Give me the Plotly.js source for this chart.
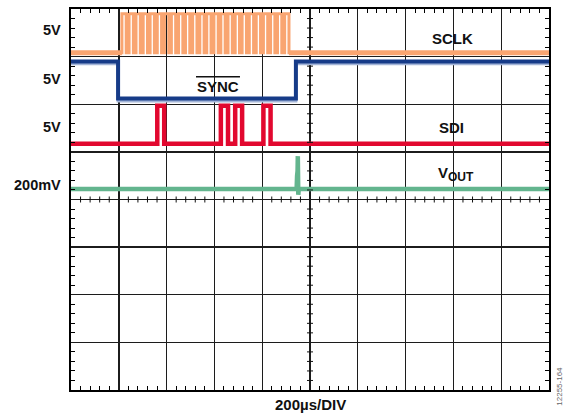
<!DOCTYPE html>
<html>
<head>
<meta charset="utf-8">
<script src="https://cdn.plot.ly/plotly-3.0.1.min.js"></script>
<style>html,body{margin:0;padding:0;background:#fff;}#chart{width:566px;height:415px;}</style>
</head>
<body>
<div id="chart"></div>
<script>
// time axis in microseconds (200 us/div, 10 div); vertical axis in screen divisions (8 div)
var timeRange = [0, 2000];
var divRange = [0, 8];

// SCLK: 24 clock pulses (rise / fall times, us) and levels (div)
var sclkRise = [213, 243, 272, 302, 331, 361, 391, 420, 450, 479, 509, 539,
                568, 598, 627, 657, 687, 716, 746, 775, 805, 835, 864, 894];
var sclkFall = [231, 261, 290, 320, 349, 379, 409, 438, 468, 497, 527, 557,
                586, 616, 645, 675, 705, 734, 764, 793, 823, 853, 882, 912];
var sclkLow = 7.08, sclkHigh = 7.90;

// SYNC (active low frame)
var syncFall = 197, syncRise = 941;
var syncHigh = 6.90, syncLow = 6.12;

// SDI data pulses
var sdiRise = [361, 627, 687, 805];
var sdiFall = [390, 657, 716, 835];
var sdiLow = 5.17, sdiHigh = 5.97;

// VOUT with small glitch at SYNC rising edge
var voutT = [0, 944, 946, 948, 949, 950, 951, 953, 2000];
var voutV = [4.22, 4.22, 4.5, 4.6, 4.91, 4.3, 4.1, 4.22, 4.22];

// channel labels
var chanLabels = ['5V', '5V', '5V', '200mV'];
var chanLabelY = [7.56, 6.53, 5.52, 4.30];
var sigNames = ['SCLK', 'SYNC', 'SDI', 'V<sub><span style="font-size:12px">OUT</span></sub>'];
var sigNameX = [1598, 615, 1594, 1610];
var sigNameY = [7.39, 6.38, 5.52, 4.54];

function pulses(rise, fall, low, high, t0, t1) {
  var x = [t0], y = [low];
  for (var i = 0; i < rise.length; i++) {
    x.push(rise[i]); y.push(high);
    x.push(fall[i]); y.push(low);
  }
  x.push(t1); y.push(low);
  return {x: x, y: y};
}

var sclk = pulses(sclkRise, sclkFall, sclkLow, sclkHigh, timeRange[0], timeRange[1]);
var sdi = pulses(sdiRise, sdiFall, sdiLow, sdiHigh, timeRange[0], timeRange[1]);
var syncX = [timeRange[0], syncFall, syncRise, timeRange[1]];
var syncY = [syncHigh, syncLow, syncHigh, syncHigh];

var orange = '#F9A571';
var traces = [
  {x: sclk.x, y: sclk.y, mode: 'lines', line: {shape: 'hv', color: orange, width: 3}, hoverinfo: 'skip'},
  {x: [timeRange[0], sclkRise[0]], y: [sclkLow, sclkLow], mode: 'lines', line: {color: orange, width: 5}, hoverinfo: 'skip'},
  {x: [sclkFall[sclkFall.length - 1], timeRange[1]], y: [sclkLow, sclkLow], mode: 'lines', line: {color: orange, width: 5}, hoverinfo: 'skip'},
  {x: syncX, y: syncY.map(function(v){return v - 0.05;}), mode: 'lines', line: {shape: 'hv', color: '#A3B5D8', width: 3}, hoverinfo: 'skip'},
  {x: syncX, y: syncY, mode: 'lines', line: {shape: 'hv', color: '#163B88', width: 4}, hoverinfo: 'skip'},
  {x: sdi.x, y: sdi.y, mode: 'lines', line: {shape: 'hv', color: '#E2082F', width: 4.5}, hoverinfo: 'skip'},
  {x: voutT, y: voutV, mode: 'lines', line: {color: '#63B58E', width: 4.5}, hoverinfo: 'skip'}
];

var fam = 'Liberation Sans, Arial, sans-serif';
var chanFont = {family: fam, size: 14.5, color: '#111'};
var font = {family: fam, size: 15, color: '#111'};
var annotations = [];
for (var i = 0; i < chanLabels.length; i++) {
  annotations.push({xref: 'paper', yref: 'y', x: -0.017, y: chanLabelY[i], text: '<b>' + chanLabels[i] + '</b>',
    showarrow: false, xanchor: 'right', yanchor: 'middle', font: chanFont});
}
for (var j = 0; j < sigNames.length; j++) {
  annotations.push({xref: 'x', yref: 'y', x: sigNameX[j], y: sigNameY[j], text: '<b>' + sigNames[j] + '</b>',
    showarrow: false, xanchor: 'center', yanchor: 'middle', font: font});
}
annotations.push({xref: 'paper', yref: 'paper', x: 0.5, y: -0.037, text: '<b>200µs/DIV</b>', showarrow: false,
  xanchor: 'center', yanchor: 'middle', font: font});
annotations.push({xref: 'paper', yref: 'paper', x: 1.022, y: 0.01, text: '12255-164', showarrow: false, textangle: -90,
  xanchor: 'center', yanchor: 'middle', font: {family: fam, size: 8, color: '#666'}});

var shapes = [];
// overline for SYNC
shapes.push({type: 'line', xref: 'x', yref: 'y', x0: 523, x1: 707, y0: 6.58, y1: 6.58, line: {color: '#111', width: 1.5}});
// minor ticks on centre lines
for (var k = 1; k < 40; k++) {
  if (k % 5 === 0) continue;
  var yv = k * 0.2;
  shapes.push({type: 'line', xref: 'x', yref: 'y', xsizemode: 'pixel', xanchor: 1000, x0: -3, x1: 3, y0: yv, y1: yv, line: {color: '#111', width: 1}});
}
for (var m = 1; m < 50; m++) {
  if (m % 5 === 0) continue;
  var xv = m * 40;
  shapes.push({type: 'line', xref: 'x', yref: 'y', ysizemode: 'pixel', yanchor: 4, y0: -3, y1: 3, x0: xv, x1: xv, line: {color: '#111', width: 1}});
}

var layout = {
  width: 566, height: 415,
  margin: {l: 71, r: 17, t: 9, b: 25},
  paper_bgcolor: '#fff', plot_bgcolor: '#fff',
  showlegend: false,
  xaxis: {range: timeRange, dtick: 200, tick0: 0, showgrid: true, gridcolor: '#1c1c1c', gridwidth: 1.4,
    zeroline: false, showticklabels: false, ticks: '', showline: true, linecolor: '#000', linewidth: 2, mirror: 'allticks',
    minor: {dtick: 40, ticks: 'inside', ticklen: 4, tickwidth: 1, tickcolor: '#000', showgrid: false}, fixedrange: true},
  yaxis: {range: divRange, dtick: 1, tick0: 0, showgrid: true, gridcolor: '#1c1c1c', gridwidth: 1.4,
    zeroline: false, showticklabels: false, ticks: '', showline: true, linecolor: '#000', linewidth: 2, mirror: 'allticks',
    minor: {dtick: 0.2, ticks: 'inside', ticklen: 4, tickwidth: 1, tickcolor: '#000', showgrid: false}, fixedrange: true},
  annotations: annotations,
  shapes: shapes
};

Plotly.newPlot('chart', traces, layout, {staticPlot: true, displayModeBar: false});
</script>
</body>
</html>
